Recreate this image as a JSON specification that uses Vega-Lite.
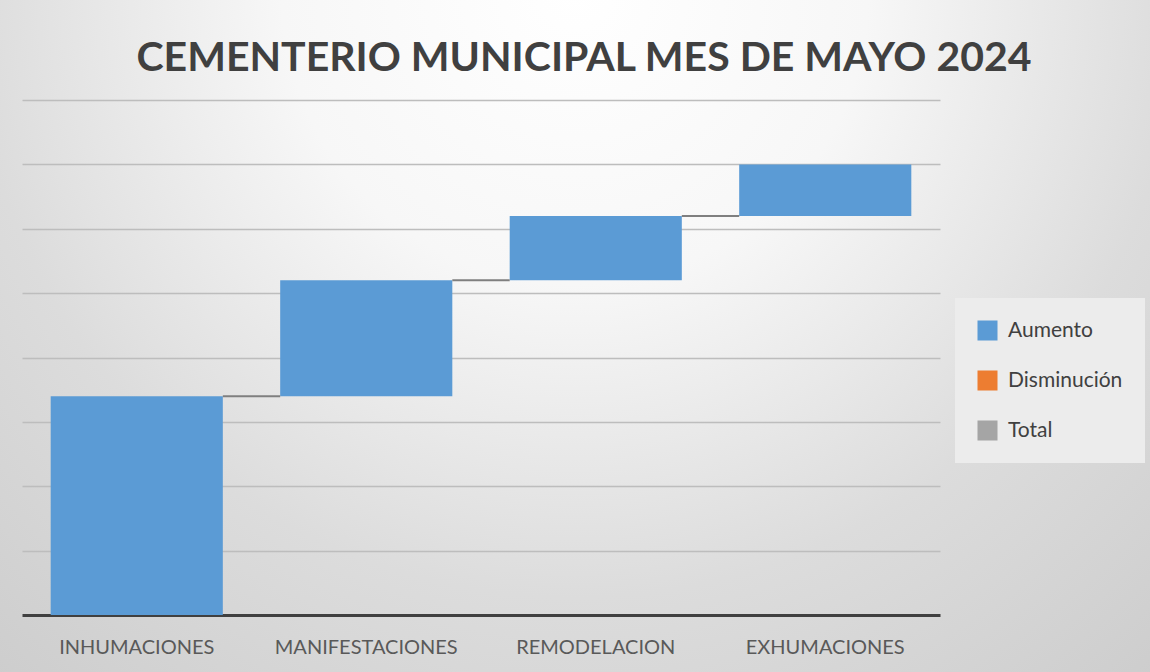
{
  "$schema": "https://vega.github.io/schema/vega-lite/v6.json",
  "width": 1150,
  "height": 672,
  "autosize": {"type": "none"},
  "padding": 0,
  "background": "#d8d8d8",
  "title": {
    "text": "CEMENTERIO MUNICIPAL MES DE MAYO 2024",
    "font": "Lato",
    "fontSize": 41,
    "fontWeight": "bold",
    "color": "#404040",
    "baseline": "alphabetic",
    "offset": -112,
    "anchor": "middle",
    "dx": 9
  },
  "config": {
    "view": {
      "stroke": null,
      "fill": {
        "gradient": "radial",
        "x1": 0.5, "y1": 0.2, "r1": 0,
        "x2": 0.5, "y2": 0.2, "r2": 0.85,
        "stops": [
          {"offset": 0, "color": "#ffffff"},
          {"offset": 0.3, "color": "#f7f7f7"},
          {"offset": 0.62, "color": "#dcdcdc"},
          {"offset": 1, "color": "#c9c9c9"}
        ]
      }
    },
    "font": "Lato"
  },
  "data": {
    "values": [
      {"cat": "INHUMACIONES", "start": 0, "end": 34, "tipo": "Aumento", "next": "MANIFESTACIONES"},
      {"cat": "MANIFESTACIONES", "start": 34, "end": 52, "tipo": "Aumento", "next": "REMODELACION"},
      {"cat": "REMODELACION", "start": 52, "end": 62, "tipo": "Aumento", "next": "EXHUMACIONES"},
      {"cat": "EXHUMACIONES", "start": 62, "end": 70, "tipo": "Aumento", "next": null}
    ]
  },
  "layer": [
    {
      "mark": {"type": "bar"},
      "encoding": {
        "x": {
          "field": "cat",
          "type": "nominal",
          "sort": null,
          "scale": {"paddingInner": 0.25, "paddingOuter": 0.125, "range": [22, 940]},
          "axis": {
            "title": null,
            "offset": -57,
            "labelAngle": 0,
            "labelFont": "Lato",
            "labelFontSize": 20,
            "labelColor": "#595959",
            "labelPadding": 22,
            "labelLimit": 400,
            "ticks": false,
            "domainColor": "#404040",
            "domainWidth": 3
          }
        },
        "y": {
          "field": "start",
          "type": "quantitative",
          "scale": {"domain": [0, 80], "range": [615, 100]},
          "axis": {
            "title": null,
            "labels": false,
            "ticks": false,
            "domain": false,
            "values": [10, 20, 30, 40, 50, 60, 70, 80],
            "gridColor": "#bdbdbd",
            "gridWidth": 1.5
          }
        },
        "y2": {"field": "end"},
        "color": {
          "field": "tipo",
          "type": "nominal",
          "scale": {
            "domain": ["Aumento", "Disminución", "Total"],
            "range": ["#5b9bd5", "#ed7d31", "#a5a5a5"]
          },
          "legend": {
            "title": null,
            "orient": "none",
            "legendX": 955,
            "legendY": 298,
            "fillColor": "#ececec",
            "padding": 22,
            "symbolType": "square",
            "symbolSize": 400,
            "symbolStrokeWidth": 0,
            "symbolOpacity": 1,
            "labelFont": "Lato",
            "labelFontSize": 21,
            "labelColor": "#404040",
            "labelOffset": 10,
            "rowPadding": 28
          }
        }
      }
    },
    {
      "transform": [{"filter": "datum.next != null"}],
      "mark": {"type": "rule", "color": "#7f7f7f", "strokeWidth": 2},
      "encoding": {
        "x": {"field": "cat", "type": "nominal", "sort": null, "bandPosition": 1},
        "x2": {"field": "next", "bandPosition": 0},
        "y": {"field": "end", "type": "quantitative"}
      }
    }
  ]
}
